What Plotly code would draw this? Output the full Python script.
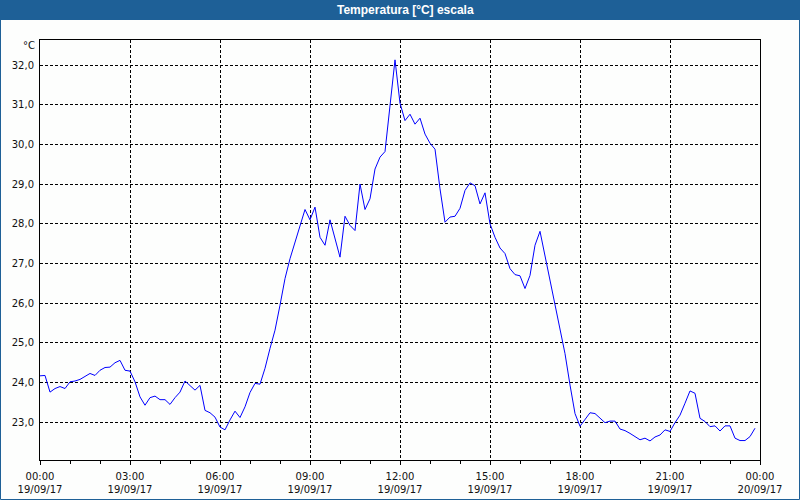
import pandas as pd
import plotly.graph_objects as go

# ---- data (10-minute readings, 19/09/17 00:00 -> 23:50) ----
start_time = "2017-09-19 00:00"
step_minutes = 10
temps = [
    24.17, 24.18, 23.76, 23.85, 23.90, 23.85, 24.02, 24.04, 24.08, 24.16,
    24.23, 24.18, 24.31, 24.38, 24.39, 24.50, 24.56, 24.31, 24.29, 24.02,
    23.64, 23.43, 23.62, 23.66, 23.57, 23.57, 23.45, 23.62, 23.76, 24.04,
    23.92, 23.81, 23.93, 23.30, 23.24, 23.13, 22.88, 22.81, 23.06, 23.28,
    23.12, 23.39, 23.75, 23.98, 23.96, 24.36, 24.86, 25.32, 25.95, 26.62,
    27.12, 27.54, 27.96, 28.36, 28.10, 28.42, 27.66, 27.46, 28.10, 27.62,
    27.16, 28.19, 27.96, 27.83, 29.00, 28.36, 28.63, 29.38, 29.68, 29.82,
    31.06, 32.13, 31.04, 30.60, 30.76, 30.51, 30.66, 30.26, 30.03, 29.88,
    28.88, 28.04, 28.17, 28.19, 28.39, 28.84, 29.03, 28.96, 28.50, 28.78,
    28.00, 27.66, 27.39, 27.25, 26.87, 26.72, 26.69, 26.37, 26.70, 27.46,
    27.81, 27.20, 26.53, 25.95, 25.36, 24.73, 23.94, 23.22, 22.90, 23.08,
    23.24, 23.22, 23.10, 22.99, 23.03, 23.03, 22.83, 22.79, 22.72, 22.64,
    22.56, 22.60, 22.53, 22.63, 22.68, 22.81, 22.77, 22.99, 23.18, 23.48,
    23.79, 23.73, 23.10, 23.02, 22.89, 22.91, 22.78, 22.91, 22.91, 22.60,
    22.54, 22.54, 22.64, 22.85,
]
times = pd.date_range(start_time, periods=len(temps), freq=f"{step_minutes}min")

title_text = "Temperatura [°C] escala"
unit_label = "°C"
x_range = ["2017-09-19 00:00", "2017-09-20 00:00"]
y_range = [22.05, 32.63]

# ---- figure ----
W, H = 800, 500
L, R, T, B = 40, 40, 40, 40
pw, ph = W - L - R, H - T - B

def px_x(x):
    return (x - L) / pw

def px_y(y):
    return (H - B - y) / ph

bg = "#fdfefd"
blue_bar = "#1e6097"
font_family = "DejaVu Sans"
txt_col = "#111111"

fig = go.Figure()
fig.add_trace(go.Scatter(
    x=times, y=temps, mode="lines",
    line=dict(color="#0000ff", width=1),
    hoverinfo="x+y", showlegend=False,
))

grid_dash = "3px,2px"
fig.update_layout(
    width=W, height=H,
    margin=dict(l=L, r=R, t=T, b=B, pad=0, autoexpand=False),
    paper_bgcolor=bg, plot_bgcolor=bg,
    separators=",.",
    showlegend=False,
    font=dict(family=font_family, size=10, color=txt_col),
    xaxis=dict(
        type="date", range=x_range, automargin=False,
        tickmode="linear", tick0=x_range[0], dtick=3 * 3600000,
        tickformat="%H:%M<br>%d/%m/%y",
        ticks="outside", ticklen=4, tickcolor="black", tickwidth=1,
        showgrid=True, gridcolor="black", gridwidth=1, griddash=grid_dash,
        showline=True, linecolor="black", linewidth=1, mirror=True,
        zeroline=False,
        minor=dict(dtick=3600000, tick0=x_range[0], ticks="outside",
                   ticklen=3, tickcolor="black", showgrid=False),
        tickfont=dict(family=font_family, size=10, color=txt_col),
        ticklabelstandoff=3,
    ),
    yaxis=dict(
        range=y_range, tickmode="linear", tick0=23, dtick=1, automargin=False,
        tickformat=".1f",
        ticks="", showgrid=True, gridcolor="black", gridwidth=1,
        griddash=grid_dash,
        showline=True, linecolor="black", linewidth=1, mirror=True,
        zeroline=False,
        tickfont=dict(family=font_family, size=10, color=txt_col),
        ticklabelstandoff=3,
    ),
)

# title bar
fig.add_shape(type="rect", xref="paper", yref="paper",
              x0=px_x(0), x1=px_x(W), y0=px_y(20), y1=px_y(0),
              fillcolor=blue_bar, line=dict(width=0), layer="above")
# outer blue border
fig.add_shape(type="rect", xref="paper", yref="paper",
              x0=px_x(0.5), x1=px_x(W - 0.5), y0=px_y(H - 0.5), y1=px_y(0.5),
              fillcolor="rgba(0,0,0,0)", line=dict(color=blue_bar, width=1),
              layer="above")

fig.add_annotation(
    text=f"<b>{title_text}</b>", xref="paper", yref="paper",
    x=px_x(405), y=px_y(10), xanchor="center", yanchor="middle",
    showarrow=False,
    font=dict(family="Liberation Sans", size=12, color="white"),
)
fig.add_annotation(
    text=unit_label, xref="paper", yref="paper",
    x=px_x(37), y=px_y(46), xanchor="right", yanchor="middle",
    showarrow=False,
    font=dict(family=font_family, size=10, color=txt_col),
)

fig.write_html("out.html")
